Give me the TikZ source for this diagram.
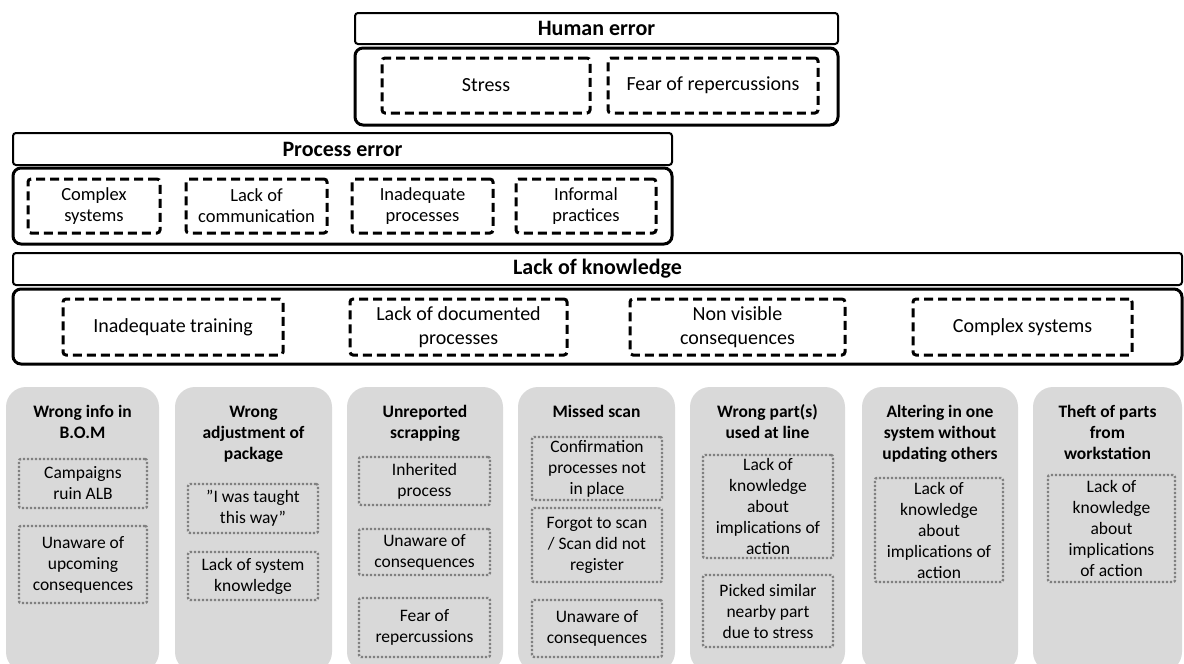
\documentclass[tikz,border=0pt]{standalone}
\usepackage{fontspec}
\setmainfont{Carlito}
\definecolor{colfill}{RGB}{217,217,217}
\definecolor{dotgray}{RGB}{128,128,128}
\begin{document}
\begin{tikzpicture}[x=1pt,y=-1pt,
  hdr/.style={draw=black, line width=2pt, rounded corners=3pt, fill=white, inner sep=0pt,
    font=\fontsize{22}{26}\selectfont\bfseries},
  grp/.style={draw=black, line width=3pt, rounded corners=8pt, inner sep=0pt},
  dbox/.style={draw=black, line width=3pt, dash pattern=on 9pt off 5pt, rounded corners=3pt,
    align=center, inner sep=0pt, font=\fontsize{20}{24}\selectfont},
  pbox/.style={dbox, font=\fontsize{18.5}{21}\selectfont},
  col/.style={fill=colfill, rounded corners=20pt, inner sep=0pt, minimum height=285pt},
  ctitle/.style={anchor=north, align=center, inner sep=0pt, font=\fontsize{17.5}{21}\selectfont\bfseries},
  cause/.style={draw=dotgray, line width=2.4pt, dash pattern=on 2.2pt off 1.8pt, rounded corners=2pt,
    align=center, inner sep=0pt, font=\fontsize{17.5}{21}\selectfont},
]
\useasboundingbox (0,0) rectangle (1184,664);

% ---- Human error ----
\node[hdr, minimum width=483pt, minimum height=31pt] (human) at (596.5,28.5) {Human error};
\node[grp, minimum width=483pt, minimum height=77pt] (humanbody) at (596.5,86.5) {};
\node[dbox, minimum width=208pt, minimum height=55pt] (stress) at (486,85.5) {Stress};
\node[dbox, minimum width=210pt, minimum height=55pt] (fear) at (713,85.5) {Fear of repercussions};

% ---- Process error ----
\node[hdr, minimum width=659pt, minimum height=32pt] (process) at (342.5,149) {Process error};
\node[grp, minimum width=659pt, minimum height=76pt] (processbody) at (342.5,206) {};
\node[pbox, minimum width=132pt, minimum height=54pt] (pcomplex) at (94,206) {Complex\\systems};
\node[pbox, minimum width=141pt, minimum height=54pt] (pcomm) at (256.5,206) {Lack of\\communication};
\node[pbox, minimum width=141pt, minimum height=54pt] (pinadeq) at (422.5,206) {Inadequate\\processes};
\node[pbox, minimum width=140pt, minimum height=54pt] (pinformal) at (586,206) {Informal\\practices};

% ---- Lack of knowledge ----
\node[hdr, minimum width=1169pt, minimum height=32pt] (knowledge) at (597.5,269) {Lack of knowledge};
\node[grp, minimum width=1169pt, minimum height=75pt] (knowledgebody) at (597.5,326.5) {};
\node[dbox, minimum width=220pt, minimum height=56pt] (ktraining) at (173,327) {Inadequate training};
\node[dbox, minimum width=217pt, minimum height=56pt] (kdocs) at (458.5,327) {Lack of documented\\processes};
\node[dbox, minimum width=215pt, minimum height=56pt] (kvisible) at (737.5,327) {Non visible\\consequences};
\node[dbox, minimum width=219pt, minimum height=56pt] (kcomplex) at (1022.5,327) {Complex systems};

% ---- Error columns ----
\node[col, minimum width=153pt] (c1) at (82.5,529.5) {};
\node[col, minimum width=157pt] (c2) at (253.5,529.5) {};
\node[col, minimum width=156pt] (c3) at (425,529.5) {};
\node[col, minimum width=157pt] (c4) at (596.5,529.5) {};
\node[col, minimum width=155pt] (c5) at (767.5,529.5) {};
\node[col, minimum width=156pt] (c6) at (940,529.5) {};
\node[col, minimum width=149pt] (c7) at (1107.5,529.5) {};

\node[ctitle] (t1) at (82.5,403) {\strut Wrong info in\\B.O.M};
\node[ctitle] (t2) at (253.5,403) {\strut Wrong\\adjustment of\\package};
\node[ctitle] (t3) at (425,403) {\strut Unreported\\scrapping};
\node[ctitle] (t4) at (596.5,403) {\strut Missed scan};
\node[ctitle] (t5) at (767.5,403) {\strut Wrong part(s)\\used at line};
\node[ctitle] (t6) at (940,403) {\strut Altering in one\\system without\\updating others};
\node[ctitle] (t7) at (1107.5,403) {\strut Theft of parts\\from\\workstation};

% causes in column 1
\node[cause, minimum width=128pt, minimum height=49pt] (c1a) at (83,483.5) {Campaigns\\ruin ALB};
\node[cause, minimum width=128pt, minimum height=77pt] (c1b) at (83,564.5) {Unaware of\\upcoming\\consequences};
% column 2
\node[cause, minimum width=130pt, minimum height=49pt] (c2a) at (253,508.5) {”I was taught\\this way”};
\node[cause, minimum width=130pt, minimum height=48pt] (c2b) at (253,576) {Lack of system\\knowledge};
% column 3
\node[cause, minimum width=131pt, minimum height=48pt] (c3a) at (424.5,481) {Inherited\\process};
\node[cause, minimum width=131pt, minimum height=46pt] (c3b) at (424.5,552) {Unaware of\\consequences};
\node[cause, minimum width=131pt, minimum height=59pt] (c3c) at (424.5,627.5) {Fear of\\repercussions};
% column 4
\node[cause, minimum width=130pt, minimum height=63pt] (c4a) at (597,468.5) {Confirmation\\processes not\\in place};
\node[cause, minimum width=130pt, minimum height=74pt] (c4b) at (597,545) {Forgot to scan\\/ Scan did not\\register};
\node[cause, minimum width=130pt, minimum height=57pt] (c4c) at (597,628.5) {Unaware of\\consequences};
% column 5
\node[cause, minimum width=130pt, minimum height=103pt] (c5a) at (768,506.5) {Lack of\\knowledge\\about\\implications of\\action};
\node[cause, minimum width=130pt, minimum height=72pt] (c5b) at (768,611) {Picked similar\\nearby part\\due to stress};
% column 6
\node[cause, minimum width=128pt, minimum height=104pt] (c6a) at (939,530) {Lack of\\knowledge\\about\\implications of\\action};
% column 7
\node[cause, minimum width=127pt, minimum height=107pt] (c7a) at (1111.5,528.5) {Lack of\\knowledge\\about\\implications\\of action};
\end{tikzpicture}
\end{document}
